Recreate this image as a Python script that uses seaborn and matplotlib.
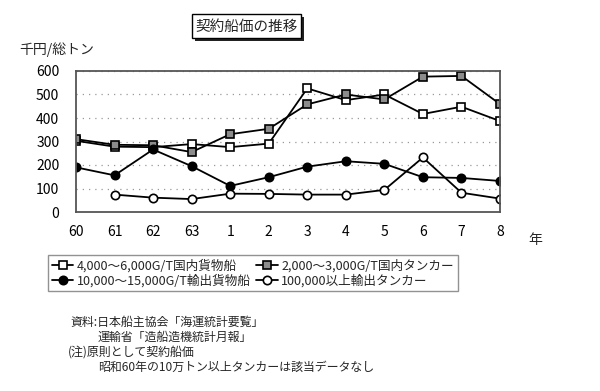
import numpy as np
import pandas as pd
import seaborn as sns
import matplotlib.pyplot as plt
from matplotlib.patches import Rectangle

years = ['60', '61', '62', '63', '1', '2', '3', '4', '5', '6', '7', '8']
cargo_dom = [303, 278, 276, 289, 276, 291, 526, 476, 500, 417, 448, 387]
tanker_dom = [310, 286, 284, 255, 331, 354, 458, 500, 479, 576, 579, 459]
cargo_exp = [190, 156, 266, 195, 111, 148, 193, 216, 205, 148, 145, 132]
tanker_exp = [np.nan, 74, 61, 55, 78, 77, 74, 74, 94, 232, 82, 57]

labels = ['4,000～6,000G/T国内貨物船', '2,000～3,000G/T国内タンカー',
          '10,000～15,000G/T輸出貨物船', '100,000以上輸出タンカー']

sns.set_style('white')
plt.rcParams['font.family'] = ['Noto Sans CJK JP', 'DejaVu Sans']

fig = plt.figure(figsize=(6, 3.91), dpi=100)
ax = fig.add_axes([76 / 600, 1 - 212 / 391, 424 / 600, 141 / 391])

x = np.arange(len(years))
styles = [
    (cargo_dom, dict(marker='s', markerfacecolor='white', markeredgecolor='black')),
    (tanker_dom, dict(marker='s', markerfacecolor='#8c8c8c', markeredgecolor='black')),
    (cargo_exp, dict(marker='o', markerfacecolor='black', markeredgecolor='black')),
    (tanker_exp, dict(marker='o', markerfacecolor='white', markeredgecolor='black')),
]
for (vals, st), lab in zip(styles, labels):
    df = pd.DataFrame({'x': x, 'y': vals}).dropna()
    sns.lineplot(data=df, x='x', y='y', ax=ax, color='black', lw=1.3,
                 markersize=6, markeredgewidth=1.2, label=lab, **st)

ax.set_xlim(0, 11)
ax.set_ylim(0, 600)
ax.set_xticks(x)
ax.set_xticklabels(years)
ax.set_yticks(range(0, 601, 100))
ax.tick_params(axis='both', direction='in', length=3, width=0.8, colors='#444444',
               labelcolor='black', labelsize=10)
ax.tick_params(axis='x', pad=9)
ax.tick_params(axis='y', pad=12)
ax.yaxis.grid(True, linestyle=(0, (1, 4)), color='#999999', lw=0.9)
for s in ax.spines.values():
    s.set_color('#555555')
    s.set_linewidth(1.3)
ax.set_xlabel('')
ax.set_ylabel('')
ax.get_legend().remove()

h, l = ax.get_legend_handles_labels()
order = [0, 2, 1, 3]  # row-wise fill
leg = fig.legend([h[i] for i in order], [l[i] for i in order], ncol=2, loc='upper left',
                 bbox_to_anchor=(48 / 600, 1 - 255 / 391),
                 frameon=True, fancybox=False, fontsize=9.1, handlelength=1.7,
                 handletextpad=0.3, columnspacing=0.4, borderpad=0.3, labelspacing=0.15,
                 borderaxespad=0)
leg.get_frame().set_edgecolor('#777777')
leg.get_frame().set_linewidth(1.0)

# title with shadowed box
fig.patches.append(Rectangle((195 / 600, 1 - 41 / 391), 109 / 600, 24 / 391,
                             transform=fig.transFigure, fc='#222222', ec='none', zorder=1))
fig.patches.append(Rectangle((192 / 600, 1 - 38 / 391), 109 / 600, 24 / 391,
                             transform=fig.transFigure, fc='white', ec='black', lw=1.0, zorder=2))
fig.text(246.5 / 600, 1 - 26.5 / 391, '契約船価の推移', ha='center', va='center', fontsize=10.5,
         zorder=5)

fig.text(19 / 600, 1 - 50 / 391, '千円/総トン', ha='left', va='center', fontsize=10)
fig.text(528 / 600, 1 - 240 / 391, '年', ha='left', va='center', fontsize=10)

notes = [
    (70, 322, '資料:日本船主協会「海運統計要覧」'),
    (98, 337, '運輸省「造船造機統計月報」'),
    (68, 352, '(注)原則として契約船価'),
    (98, 367, '昭和60年の10万トン以上タンカーは該当データなし'),
]
for nx, ny, t in notes:
    fig.text(nx / 600, 1 - ny / 391, t, ha='left', va='center', fontsize=8.6)

fig.savefig('out.png', dpi=100)
